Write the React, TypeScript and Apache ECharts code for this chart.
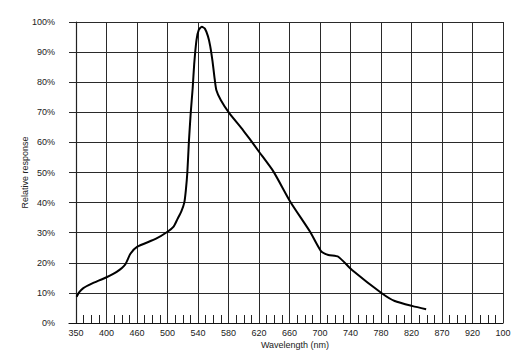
import React, { useEffect, useRef } from "react";
import * as echarts from "echarts";

// Tick labels along the wavelength axis (evenly spaced on the chart)
const tickLabels = ["350", "400", "460", "500", "540", "580", "620", "660", "700", "740", "780", "820", "870", "920", "100"];
const tickWavelengths = [350, 400, 460, 500, 540, 580, 620, 660, 700, 740, 780, 820, 870, 920, 1000];

// Response curve
const wavelengths = [351, 355, 362, 375, 400, 420, 437, 447, 460, 485, 500, 508, 513, 518, 522, 524, 526, 528, 530.5, 533, 535, 538, 541, 545, 549, 553, 556, 559, 561.5, 564, 570, 581, 599, 607, 620, 639, 661, 687, 701, 711, 724, 742, 781, 798, 822, 844];
const responses = [8.7, 10.2, 11.6, 13, 15.2, 17, 19.5, 23, 25.3, 28, 30.3, 32, 34.5, 37, 40, 44, 50, 60, 70, 78, 86, 94, 97.4, 98.4, 97.8, 95.3, 92, 87, 81.8, 77.4, 74, 69.7, 64.1, 61.4, 56.9, 50.3, 40.3, 30.3, 24, 22.6, 22, 17.6, 9.9, 7.3, 5.6, 4.6];

const yTicks = [0, 10, 20, 30, 40, 50, 60, 70, 80, 90, 100];

function toPos(w: number): number {
  for (let i = 0; i < tickWavelengths.length - 1; i++) {
    const a = tickWavelengths[i];
    const b = tickWavelengths[i + 1];
    if (w <= b) return i + (w - a) / (b - a);
  }
  return tickWavelengths.length - 1;
}

export default function App() {
  const ref = useRef<HTMLDivElement>(null);
  useEffect(() => {
    if (!ref.current) return;
    const chart = echarts.init(ref.current, null, { renderer: "svg" });
    const majors = tickLabels.map((_, i) => i);
    const minors: number[] = [];
    for (let i = 0; i < tickLabels.length - 1; i++) {
      for (let k = 1; k < 4; k++) minors.push(i + k / 4);
    }
    const font = "Liberation Sans, Arial, sans-serif";
    const lineColor = "#2a2a2a";
    chart.setOption({
      animation: false,
      backgroundColor: "#ffffff",
      grid: { left: 69, right: 15, top: 22, bottom: 35, containLabel: false },
      xAxis: [
        {
          type: "value",
          min: -0.23,
          max: 14,
          name: "Wavelength (nm)",
          nameLocation: "middle",
          nameGap: 17,
          nameMoveOverlap: false,
          nameTextStyle: { fontFamily: font, fontSize: 9, color: "#222", padding: [0, 0, 0, 18] },
          axisLine: { show: true, onZero: false, lineStyle: { color: "#111", width: 1.2 } },
          axisTick: { show: false, customValues: majors },
          axisLabel: {
            customValues: majors,
            margin: 5,
            fontFamily: font,
            fontSize: 9,
            color: "#222",
            formatter: (v: number) => tickLabels[Math.round(v)] ?? "",
          },
          splitLine: { show: true, lineStyle: { color: lineColor, width: 1 } },
        },
        {
          type: "value",
          min: -0.23,
          max: 14,
          position: "bottom",
          axisLine: { show: false },
          axisTick: { show: true, inside: true, length: 8, customValues: minors, lineStyle: { color: "#222", width: 1 } },
          axisLabel: { show: false },
          splitLine: { show: false },
        },
      ],
      yAxis: {
        type: "value",
        min: 0,
        max: 100,
        interval: 10,
        name: "Relative response",
        nameLocation: "middle",
        nameGap: 40,
        nameMoveOverlap: false,
        nameTextStyle: { fontFamily: font, fontSize: 9, color: "#222" },
        axisLine: { show: true, lineStyle: { color: "#222", width: 1.2 } },
        axisTick: { show: false },
        axisLabel: {
          margin: 14,
          fontFamily: font,
          fontSize: 9,
          color: "#222",
          formatter: (v: number) => (yTicks.includes(v) ? v + "%" : ""),
        },
        splitLine: { show: true, lineStyle: { color: lineColor, width: 1 } },
      },
      series: [
        {
          type: "line",
          xAxisIndex: 0,
          data: wavelengths.map((w, i) => [toPos(w), responses[i]]),
          showSymbol: false,
          smooth: 0.2,
          lineStyle: { color: "#000", width: 2 },
        },
      ],
    });
    return () => chart.dispose();
  }, []);
  return <div ref={ref} style={{ width: 518, height: 358, position: "absolute", left: 0, top: 0 }} />;
}
